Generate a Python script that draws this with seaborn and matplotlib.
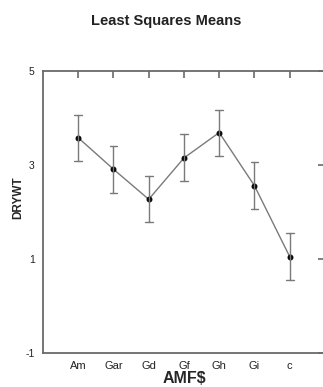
import matplotlib
matplotlib.use('Agg')
from matplotlib import pyplot as plt
import pandas as pd
import numpy as np
import seaborn as sns

groups = ['Am', 'Gar', 'Gd', 'Gf', 'Gh', 'Gi', 'c']
means = [3.58, 2.91, 2.27, 3.15, 3.69, 2.56, 1.05]
errs = [0.49, 0.50, 0.49, 0.50, 0.49, 0.50, 0.50]

sns.set_style('white')
plt.rcParams['font.family'] = ['Liberation Sans', 'DejaVu Sans']

# lower / mean / upper per group so pointplot's min-max interval gives the bars
rows = []
for g, m, e in zip(groups, means, errs):
    for v in (m - e, m, m + e):
        rows.append([g, v])
df = pd.DataFrame(rows, columns=['AMF$', 'DRYWT'])

fig = plt.figure(figsize=(3.23, 3.87), dpi=100)
ax = fig.add_axes([43 / 323, 1 - 353 / 387, 1 - 43 / 323 + 0.006, (353 - 71) / 387])
sns.pointplot(data=df, x='AMF$', y='DRYWT', order=groups, estimator='mean',
              errorbar=('pi', 100), color='#7a7a7a', capsize=0.22,
              markers='o', markersize=3.5, linewidth=1.0,
              err_kws={'linewidth': 1.0, 'color': '#7a7a7a'}, ax=ax)
for ln in ax.lines:
    if ln.get_marker() == 'o':
        ln.set_markerfacecolor('black')
        ln.set_markeredgecolor('black')

ax.set_xlim(-1, 7)
ax.set_ylim(-1, 5)
ax.set_yticks([-1, 1, 3, 5])
ax.set_yticklabels(['-1', '1', '3', '5'])
for s in ax.spines.values():
    s.set_color('#6a6a6a')
    s.set_linewidth(1.3)
ax.tick_params(direction='in', length=5, width=1.2, color='#6a6a6a',
               labelsize=7.5, colors='#222222', top=True, right=True,
               labeltop=False, labelright=False)
ax.tick_params(axis='x', pad=6, labelsize=8)
ax.tick_params(axis='y', pad=6)
ax.set_xlabel('AMF$', fontsize=11.5, fontweight='bold', labelpad=0)
ax.set_ylabel('DRYWT', fontsize=8.5, fontweight='bold')
ax.yaxis.set_label_coords(-0.065, 0.55)
fig.text(0.515, 0.947, 'Least Squares Means', ha='center', va='center',
         fontsize=10.5, fontweight='bold', color='#222222')

plt.savefig('out.png', dpi=100)
